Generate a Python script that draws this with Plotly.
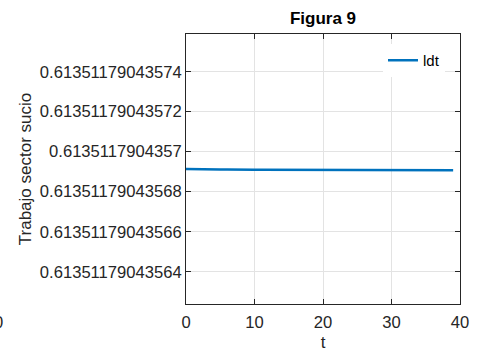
import plotly.graph_objects as go

t = list(range(0, 40))
ldt = [
    0.6135117904356913, 0.6135117904356912, 0.6135117904356911, 0.6135117904356911,
    0.6135117904356910, 0.6135117904356910, 0.6135117904356910, 0.6135117904356909,
    0.6135117904356909, 0.6135117904356909, 0.6135117904356909, 0.6135117904356909,
    0.6135117904356909, 0.6135117904356909, 0.6135117904356908, 0.6135117904356908,
    0.6135117904356908, 0.6135117904356908, 0.6135117904356908, 0.6135117904356908,
    0.6135117904356908, 0.6135117904356908, 0.6135117904356908, 0.6135117904356908,
    0.6135117904356908, 0.6135117904356908, 0.6135117904356908, 0.6135117904356908,
    0.6135117904356908, 0.6135117904356907, 0.6135117904356907, 0.6135117904356907,
    0.6135117904356907, 0.6135117904356907, 0.6135117904356907, 0.6135117904356907,
    0.6135117904356907, 0.6135117904356907, 0.6135117904356907, 0.6135117904356907,
]
y_tickvals = [0.61351179043564, 0.61351179043566, 0.61351179043568,
              0.6135117904357, 0.61351179043572, 0.61351179043574]
y_ticktext = ["0.61351179043564", "0.61351179043566", "0.61351179043568",
              "0.6135117904357", "0.61351179043572", "0.61351179043574"]
x_tickvals = [0, 10, 20, 30, 40]
y_range = [0.61351179043562375, 0.61351179043575875]

font = "Liberation Sans, Arial, sans-serif"
axcol = "#262626"

fig = go.Figure()
fig.add_trace(go.Scatter(x=t, y=ldt, mode="lines", name="ldt",
                         line=dict(color="#0072BD", width=2.5)))

fig.update_layout(
    width=480, height=352,
    margin=dict(l=186, r=20, t=34, b=48, autoexpand=False),
    paper_bgcolor="white", plot_bgcolor="white",
    font=dict(family=font, size=16.6, color=axcol),
    title=dict(text="<b>Figura 9</b>", x=(186 + 460) / 2 / 480, xanchor="center",
               y=1 - 18 / 352, yanchor="middle",
               font=dict(family=font, size=17, color="black")),
    showlegend=True,
    legend=dict(x=(445 - 186) / 274, xanchor="right", y=1 - (44 - 34) / 270, yanchor="top",
                bgcolor="white", borderwidth=0,
                font=dict(family=font, size=15, color="black")),
    annotations=[dict(text="0", x=(-2 - 186) / 274, y=1 - (322 - 34) / 270,
                      xref="paper", yref="paper",
                      showarrow=False, xanchor="center", yanchor="middle",
                      font=dict(family=font, size=16.6, color=axcol))],
)

fig.update_xaxes(range=[0, 40], tickvals=x_tickvals, ticks="inside", ticklen=5,
                 tickcolor=axcol, showline=True, linecolor=axcol, linewidth=1,
                 mirror="ticks", showgrid=True, gridcolor="#e3e3e3", zeroline=False,
                 tickfont=dict(size=16.6), automargin=False, ticklabelstandoff=3,
                 title=dict(text="t", standoff=8, font=dict(size=17)))
fig.update_yaxes(range=y_range, tickvals=y_tickvals, ticktext=y_ticktext,
                 ticks="inside", ticklen=5, tickcolor=axcol, showline=True,
                 linecolor=axcol, linewidth=1, mirror="ticks", showgrid=True,
                 gridcolor="#e3e3e3", zeroline=False,
                 tickfont=dict(size=16.6), automargin=False,
                 title=dict(text="Trabajo sector sucio", standoff=3, font=dict(size=17)))

fig.write_html("out.html")
